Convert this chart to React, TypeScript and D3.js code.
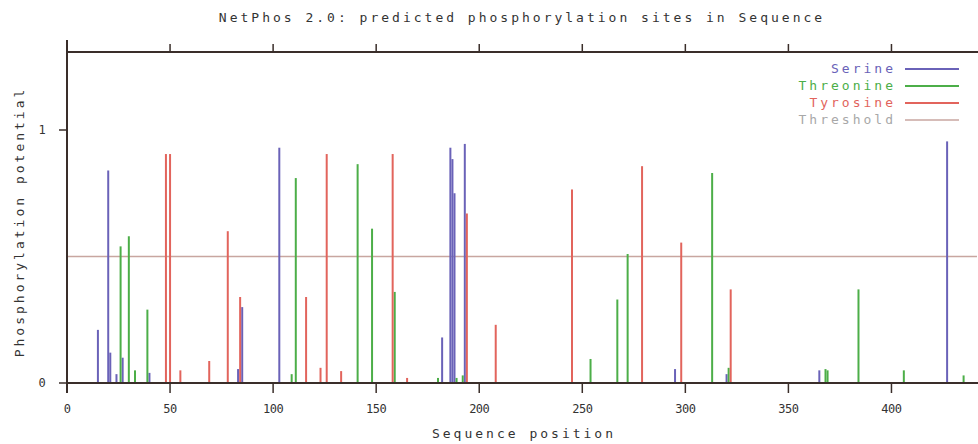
import React from "react";
import * as d3 from "d3";

const serinePos = [15, 20, 21, 24, 27, 40, 83, 85, 103, 182, 186, 187, 188, 193, 295, 320, 365, 427];
const serineVal = [0.21, 0.84, 0.12, 0.035, 0.1, 0.04, 0.055, 0.3, 0.93, 0.18, 0.93, 0.885, 0.75, 0.945, 0.055, 0.035, 0.05, 0.955];

const threoninePos = [26, 30, 33, 39, 109, 111, 141, 148, 159, 180, 189, 192, 254, 267, 272, 313, 321, 368, 369, 384, 406, 435];
const threonineVal = [0.54, 0.58, 0.05, 0.29, 0.035, 0.81, 0.865, 0.61, 0.36, 0.02, 0.02, 0.03, 0.095, 0.33, 0.51, 0.83, 0.06, 0.055, 0.05, 0.37, 0.05, 0.03];

const tyrosinePos = [48, 50, 55, 69, 78, 84, 116, 123, 126, 133, 158, 165, 194, 208, 245, 279, 298, 322];
const tyrosineVal = [0.905, 0.905, 0.05, 0.087, 0.6, 0.34, 0.34, 0.06, 0.905, 0.047, 0.905, 0.02, 0.67, 0.23, 0.765, 0.857, 0.555, 0.37];

const thresholdValue = 0.5;
const xTicks = [0, 50, 100, 150, 200, 250, 300, 350, 400];
const yTicks = [0, 1];
const legendLabels = ["Serine", "Threonine", "Tyrosine", "Threshold"];

const COLORS = {
  serine: "#6a62b8",
  threonine: "#4cae48",
  tyrosine: "#e2645c",
  threshold: "#c8a6a0",
  thresholdText: "#a8a8a8",
  axis: "#3a2e2a",
};

const W = 978;
const H = 444;

export default function App() {
  const x = d3.scaleLinear().domain([0, 441.5]).range([67, 977]);
  const y = d3.scaleLinear().domain([0, 1]).range([383, 130]);
  const topY = 52;
  const mono = "'DejaVu Sans Mono', monospace";

  const series = [
    { pos: serinePos, val: serineVal, color: COLORS.serine },
    { pos: threoninePos, val: threonineVal, color: COLORS.threonine },
    { pos: tyrosinePos, val: tyrosineVal, color: COLORS.tyrosine },
  ];

  const legendColors = [COLORS.serine, COLORS.threonine, COLORS.tyrosine, COLORS.threshold];
  const legendTextColors = [COLORS.serine, COLORS.threonine, COLORS.tyrosine, COLORS.thresholdText];

  return (
    <svg
      width={W}
      height={H}
      style={{ position: "absolute", left: 0, top: 0, background: "#fff" }}
    >
      <rect x={0} y={0} width={W} height={H} fill="#fff" />
      {/* title */}
      <text
        x={522}
        y={22}
        textAnchor="middle"
        fontFamily={mono}
        fontSize={13}
        letterSpacing={3}
        fill="#333"
      >
        NetPhos 2.0: predicted phosphorylation sites in Sequence
      </text>

      {/* threshold line */}
      <line
        x1={x(0)}
        x2={977}
        y1={y(thresholdValue)}
        y2={y(thresholdValue)}
        stroke={COLORS.threshold}
        strokeWidth={1.5}
      />

      {/* impulses */}
      {series.map((s, si) =>
        s.pos.map((p, i) => (
          <line
            key={`${si}-${i}`}
            x1={x(p)}
            x2={x(p)}
            y1={y(0)}
            y2={y(s.val[i])}
            stroke={s.color}
            strokeWidth={2}
          />
        ))
      )}

      {/* axes */}
      <line x1={x(0)} x2={978} y1={y(0)} y2={y(0)} stroke={COLORS.axis} strokeWidth={2} />
      <line x1={x(0)} x2={978} y1={topY} y2={topY} stroke={COLORS.axis} strokeWidth={2} />
      <line x1={x(0)} x2={x(0)} y1={40} y2={393} stroke={COLORS.axis} strokeWidth={2} />

      {xTicks.map((t) => (
        <g key={`xt-${t}`}>
          <line x1={x(t)} x2={x(t)} y1={y(0)} y2={y(0) + 10} stroke={COLORS.axis} strokeWidth={1.5} />
          <line x1={x(t)} x2={x(t)} y1={topY - 8} y2={topY} stroke={COLORS.axis} strokeWidth={1.5} />
          <text
            x={x(t)}
            y={413}
            textAnchor="middle"
            fontFamily={mono}
            fontSize={12}
            letterSpacing={-0.5}
            fill="#333"
          >
            {t}
          </text>
        </g>
      ))}

      {yTicks.map((t) => (
        <g key={`yt-${t}`}>
          <line x1={x(0) - 8} x2={x(0)} y1={y(t)} y2={y(t)} stroke={COLORS.axis} strokeWidth={1.5} />
          <text
            x={42}
            y={y(t) + 4}
            textAnchor="middle"
            fontFamily={mono}
            fontSize={12}
            fill="#333"
          >
            {t}
          </text>
        </g>
      ))}

      {/* axis labels */}
      <text
        x={524}
        y={438}
        textAnchor="middle"
        fontFamily={mono}
        fontSize={13}
        letterSpacing={3}
        fill="#333"
      >
        Sequence position
      </text>
      <text
        transform={`translate(24, 222) rotate(-90)`}
        textAnchor="middle"
        fontFamily={mono}
        fontSize={13}
        letterSpacing={3}
        fill="#333"
      >
        Phosphorylation potential
      </text>

      {/* legend */}
      {legendLabels.map((lab, i) => {
        const ly = 69 + i * 17;
        return (
          <g key={lab}>
            <text
              x={896}
              y={ly + 4}
              textAnchor="end"
              fontFamily={mono}
              fontSize={13}
              letterSpacing={3}
              fill={legendTextColors[i]}
            >
              {lab}
            </text>
            <line
              x1={905}
              x2={959}
              y1={ly}
              y2={ly}
              stroke={legendColors[i]}
              strokeWidth={i === 3 ? 1.5 : 2}
            />
          </g>
        );
      })}
    </svg>
  );
}
